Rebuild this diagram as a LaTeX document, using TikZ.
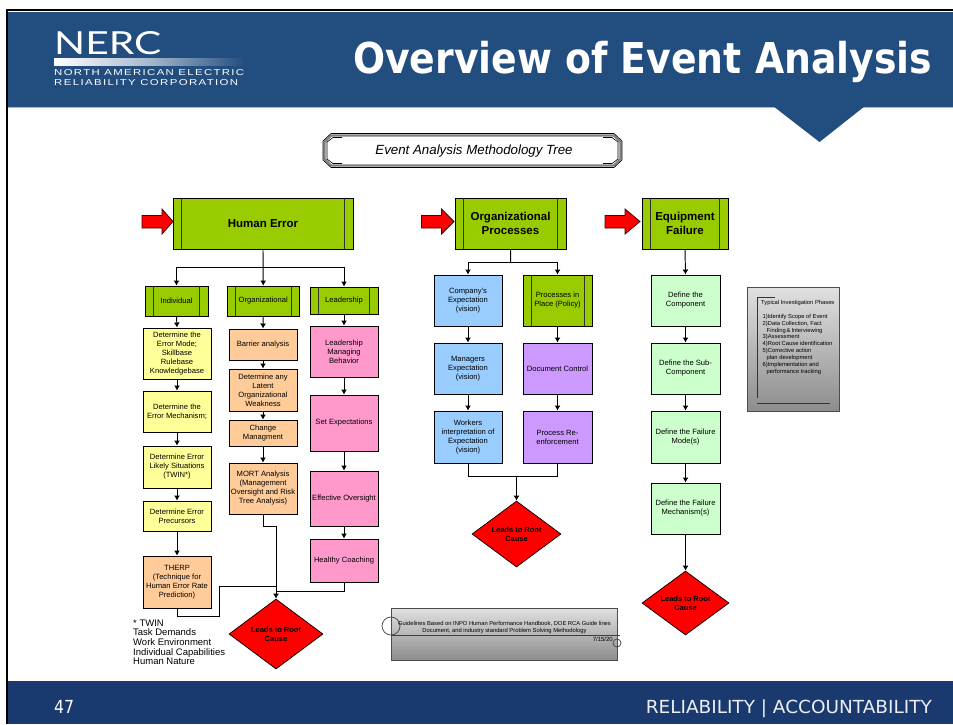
\documentclass[tikz,border=0pt]{standalone}
\usepackage{fontspec}
\usepackage{graphicx}
\setmainfont{Liberation Sans}
\newfontfamily\headf{DejaVu Sans}
\newfontfamily\logof{Lato}
\newfontfamily\logosp[LetterSpace=12]{Liberation Sans}
\usetikzlibrary{arrows.meta,shapes.geometric}
\definecolor{hdr}{HTML}{224D7F}
\definecolor{ftr}{HTML}{1A3A6F}
\definecolor{hline}{HTML}{9DBBDC}
\definecolor{cgreen}{HTML}{99CC00}
\definecolor{cyellow}{HTML}{FFFF99}
\definecolor{corange}{HTML}{FFCC99}
\definecolor{cpink}{HTML}{FF99CC}
\definecolor{cblue}{HTML}{99CCFF}
\definecolor{cpurple}{HTML}{CC99FF}
\definecolor{cpale}{HTML}{CCFFCC}
\tikzset{
  bx/.style={draw=black,line width=0.95pt,inner sep=0pt,align=center,font=\fontsize{7.6}{9}\selectfont},
  gbox/.style={bx,fill=cgreen},
  ybox/.style={bx,fill=cyellow},
  obox/.style={bx,fill=corange},
  pbox/.style={bx,fill=cpink},
  bbox/.style={bx,fill=cblue},
  vbox/.style={bx,fill=cpurple},
  lbox/.style={bx,fill=cpale},
  bigbox/.style={gbox,font=\fontsize{11.5}{14}\selectfont\bfseries},
  arr/.style={line width=0.95pt,-{Latex[length=5pt,width=6pt]}},
  lin/.style={line width=0.95pt},
  dec/.style={diamond,aspect=1.35,draw=black,line width=0.7pt,fill=red,inner sep=0pt,align=center,font=\fontsize{7.5}{9}\selectfont\bfseries},
  redarrow/.style={draw=black!70!red,line width=0.8pt,fill=red},
  grayplate/.style={draw=black!70,line width=0.9pt,top color=black!12,bottom color=black!45,inner sep=0pt},
  txt/.style={inner sep=0pt,anchor=west},
}
\newcommand\bx[7]{%
  \pgfmathsetmacro\bxcx{(#2+#4)/2}\pgfmathsetmacro\bxcy{(#3+#5)/2}%
  \pgfmathsetmacro\bxw{#4-#2}\pgfmathsetmacro\bxh{#5-#3}%
  \node[#6,minimum width=\bxw pt,minimum height=\bxh pt] (#1) at (\bxcx,\bxcy) {#7};}
\newcommand\bars[2]{%
  \draw[line width=0.95pt,black!80] ([xshift=#2pt]#1.north west) -- ([xshift=#2pt]#1.south west);
  \draw[line width=0.95pt,black!80] ([xshift=-#2pt]#1.north east) -- ([xshift=-#2pt]#1.south east);}
\newcommand\redarr[2]{%
  \draw[redarrow] (#1,215.5) -- (#1+20,215.5) -- (#1+20,209) -- (#2,221.5) -- (#1+20,234) -- (#1+20,228) -- (#1,228) -- cycle;}
\begin{document}
\begin{tikzpicture}[x=1pt,y=-1pt]
\useasboundingbox (0,0) rectangle (953,724);
% slide frame
\fill[white] (0,0) rectangle (953,724);
\fill[black] (6,9) rectangle (953,724);
\fill[white] (8,11) rectangle (953,724);
% header
\fill[hdr] (8,11.5) rectangle (953,107);
\draw[hline,line width=1pt] (8,107) -- (953,107);
\fill[hdr] (773,106) -- (865,106) -- (819.5,142) -- cycle;
% footer
\fill[ftr] (8,681) rectangle (953,724);
% logo
\node[inner sep=0pt,anchor=north west,text=white] (logoa) at (54,31) {\resizebox{107pt}{23pt}{\logof NERC}};
\shade[left color=white,right color=hdr,middle color=white!60!hdr] (54,58) rectangle (245,65.5);
\node[inner sep=0pt,anchor=north west,text=white] (logob) at (54,69) {\resizebox{190pt}{6pt}{\logosp NORTH AMERICAN ELECTRIC}};
\node[inner sep=0pt,anchor=north west,text=white] (logoc) at (54,79) {\resizebox{184pt}{6pt}{\logosp RELIABILITY CORPORATION}};
% title
\node[inner sep=0pt,anchor=base west,text=white] (title) at (353,73.5) {\resizebox{579pt}{\height}{\headf\fontsize{42.5}{42}\selectfont\bfseries Overview of Event Analysis}};
% footer text
\node[inner sep=0pt,anchor=base west,text=white] (pg) at (54,713) {\resizebox{20pt}{\height}{\headf\fontsize{18}{18}\selectfont 47}};
\node[inner sep=0pt,anchor=base east,text=white!92!ftr] (motto) at (932,713) {\resizebox{286pt}{\height}{\headf\fontsize{18}{18}\selectfont RELIABILITY | ACCOUNTABILITY}};
% title plate
\draw[black!50,line width=2.4pt,fill=white] (331,135.5) -- (614,135.5) -- (620.5,142) -- (620.5,159) -- (614,165.5) -- (331,165.5) -- (324.5,159) -- (324.5,142) -- cycle;
\draw[black,line width=0.6pt] (331,133.5) -- (614,133.5) -- (622,141) -- (622,160) -- (614,167.5) -- (331,167.5) -- (323,160) -- (323,141) -- cycle;
\draw[black,line width=0.6pt] (342,137.5) -- (333,137.5) -- (327,142) -- (327,159) -- (333,163.5) -- (342,163.5);
\draw[black,line width=0.6pt] (603,137.5) -- (612,137.5) -- (618,142) -- (618,159) -- (612,163.5) -- (603,163.5);
\node[inner sep=0pt] (plate) at (474,151) {\fontsize{13.3}{14}\selectfont\itshape Event Analysis Methodology Tree};
% top level
\bx{hum}{173}{198}{353}{249}{bigbox}{Human Error}
\bars{hum}{9}
\bx{orgp}{455}{198}{566}{249}{bigbox}{Organizational\\Processes}
\bars{orgp}{9}
\bx{equ}{642}{198}{728}{249}{bigbox}{Equipment\\Failure}
\bars{equ}{9}
\redarr{142}{173}
\redarr{421.5}{454}
\redarr{605}{640}
% second level
\bx{ind}{145}{286}{208}{316}{gbox}{Individual}
\bars{ind}{9}
\bx{org}{227}{286}{299.5}{316}{gbox}{Organizational}
\bars{org}{9}
\bx{lead}{310}{287}{378}{314}{gbox}{Leadership}
\bars{lead}{9}
% yellow column
\bx{y1}{143}{328}{211}{379}{ybox}{Determine the\\Error Mode;\\Skillbase\\Rulebase\\Knowledgebase}
\bx{y2}{143}{391}{211}{432}{ybox}{Determine the\\Error Mechanism;}
\bx{y3}{143}{446}{211}{488}{ybox}{Determine Error\\Likely Situations\\(TWIN*)}
\bx{y4}{143}{501}{211}{531}{ybox}{Determine Error\\Precursors}
\bx{y5}{143}{556}{211}{608}{obox}{THERP\\(Technique for\\Human Error Rate\\Prediction)}
% orange column
\bx{o1}{229}{329}{297}{360}{obox}{Barrier analysis}
\bx{o2}{229}{369}{297}{411.5}{obox}{Determine any\\Latent\\Organizational\\Weakness}
\bx{o3}{229}{420}{297}{446}{obox}{Change\\Managment}
\bx{o4}{229}{463}{297}{514}{obox}{MORT Analysis\\(Management\\Oversight and Risk\\Tree Analysis)}
% pink column
\bx{p1}{310}{326}{378}{377}{pbox}{Leadership\\Managing\\Behavior}
\bx{p2}{310}{395}{378}{451}{pbox}{Set Expectations}
\bx{p3}{310}{471}{378}{526.5}{pbox}{Effective Oversight}
\bx{p4}{310}{539}{378}{582}{pbox}{Healthy Coaching}
% decision 1
\bx{d1}{229}{599}{323}{669}{dec}{Leads to Root\\Cause}
% blue column
\bx{b1}{434}{275}{502}{326}{bbox}{Company's\\Expectation\\(vision)}
\bx{b2}{434}{343}{502}{394}{bbox}{Managers\\Expectation\\(vision)}
\bx{b3}{434}{411}{502}{463}{bbox}{Workers\\interpretation of\\Expectation\\(vision)}
% policy column
\bx{v1}{523}{275}{592}{326}{gbox}{Processes in\\Place (Policy)}
\bars{v1}{8.5}
\bx{v2}{523}{343}{592}{394}{vbox}{Document Control}
\bx{v3}{523}{411}{592}{463}{vbox}{Process Re-\\enforcement}
\bx{d2}{472}{501}{561}{567}{dec}{Leads to Root\\Cause}
% equipment column
\bx{l1}{651}{275}{720}{326}{lbox}{Define the\\Component}
\bx{l2}{651}{343}{720}{394}{lbox}{Define the Sub-\\Component}
\bx{l3}{651}{411}{720}{463}{lbox}{Define the Failure\\Mode(s)}
\bx{l4}{651}{483}{720}{534}{lbox}{Define the Failure\\Mechanism(s)}
\bx{d3}{642}{571}{729}{635}{dec}{Leads to Root\\Cause}
% connectors human error
\coordinate (hj) at (263,267);
\draw[arr] (hum.south) -- (org.north);
\draw[arr] (hj) -| (ind.north);
\draw[arr] (hj) -| (lead.north);
\draw[arr] (ind.south) -- (y1.north);
\draw[arr] (y1.south) -- (y2.north);
\draw[arr] (y2.south) -- (y3.north);
\draw[arr] (y3.south) -- (y4.north);
\draw[arr] (y4.south) -- (y5.north);
\draw[arr] (org.south) -- (o1.north);
\draw[arr] (o1.south) -- (o2.north);
\draw[arr] (o2.south) -- (o3.north);
\draw[arr] (o3.south) -- (o4.north);
\draw[arr] (lead.south) -- (p1.north);
\draw[arr] (p1.south) -- (p2.north);
\draw[arr] (p2.south) -- (p3.north);
\draw[arr] (p3.south) -- (p4.north);
\coordinate (m1) at (263,526.5);
\coordinate (m2) at (219,616);
\coordinate (m3) at (219,586);
\coordinate (m4) at (344,591);
\draw[arr] (o4.south) -- (m1) -| (d1.north);
\draw[lin] (y5.south) |- (m2) -- (m3) -- (m3 -| d1.north);
\draw[lin] (p4.south) |- (m4 -| d1.north);
% connectors organizational
\coordinate (oj) at (510.7,262.5);
\draw[lin] (orgp.south) -- (oj);
\draw[arr] (oj) -| (b1.north);
\draw[arr] (oj) -| (v1.north);
\draw[arr] (b1.south) -- (b2.north);
\draw[arr] (b2.south) -- (b3.north);
\draw[arr] (v1.south) -- (v2.north);
\draw[arr] (v2.south) -- (v3.north);
\coordinate (bj) at (468,476);
\draw[lin] (b3.south) |- (bj -| v3.south) -- (v3.south);
\draw[arr] (bj -| d2.north) -- (d2.north);
% connectors equipment
\draw[arr] (equ.south) -- (l1.north);
\draw[arr] (l1.south) -- (l2.north);
\draw[arr] (l2.south) -- (l3.north);
\draw[arr] (l3.south) -- (l4.north);
\draw[arr] (l4.south) -- (d3.north);
% TWIN note
\node[inner sep=0pt,anchor=north west,align=left,font=\fontsize{9.5}{9.6}\selectfont] (twin) at (133,619.5) {* TWIN\\Task Demands\\Work Environment\\Individual Capabilities\\Human Nature};
% guidelines plate
\node[grayplate,minimum width=226pt,minimum height=52pt] (guide) at (504,634) {};
\node[inner sep=0pt,align=center,font=\fontsize{5.8}{7.2}\selectfont] (guidet) at (504.5,627.5) {Guidelines Based on INPO Human Performance Handbook, DOE RCA Guide lines\\Document,  and industry standard Problem Solving Methodology};
\coordinate (g1) at (391,635);
\coordinate (g2) at (620,635);
\draw[black!75,line width=0.7pt] (g1) -- (g2);
\node[circle,draw=black!75,line width=0.7pt,minimum size=18pt,inner sep=0pt] (gc1) at (391,626) {};
\node[circle,draw=black!75,line width=0.7pt,minimum size=8pt,inner sep=0pt] (gc2) at (617,643) {};
\node[inner sep=0pt,anchor=east,font=\fontsize{6}{7}\selectfont] (gdate) at (613,639.5) {7/15/20};
% phases plate
\node[grayplate,minimum width=92pt,minimum height=124.5pt] (phase) at (793.5,349.5) {};
\coordinate (ph1) at (775,297);
\coordinate (ph2) at (757,297);
\coordinate (ph3) at (757,398);
\coordinate (ph4) at (757,403);
\coordinate (ph5) at (830,403);
\draw[black!80,line width=0.8pt] (ph1) -- (ph2) -- (ph3);
\draw[black!80,line width=0.8pt] (ph4) -- (ph5);
\node[txt,font=\fontsize{5.8}{6}\selectfont] (pht) at (761,303) {Typical Investigation Phases};
\node[inner sep=0pt,anchor=north west,align=left,font=\fontsize{5.8}{6.85}\selectfont] (phl) at (762.5,314) {1)Identify Scope of Event\\2)Data Collection, Fact\\\hspace*{4pt}Finding\,\&\,Interviewing\\3)Assessment\\4)Root Cause identification\\5)Corrective action\\\hspace*{4pt}plan development\\6)Implementation and\\\hspace*{4pt}performance tracking};
\end{tikzpicture}
\end{document}
